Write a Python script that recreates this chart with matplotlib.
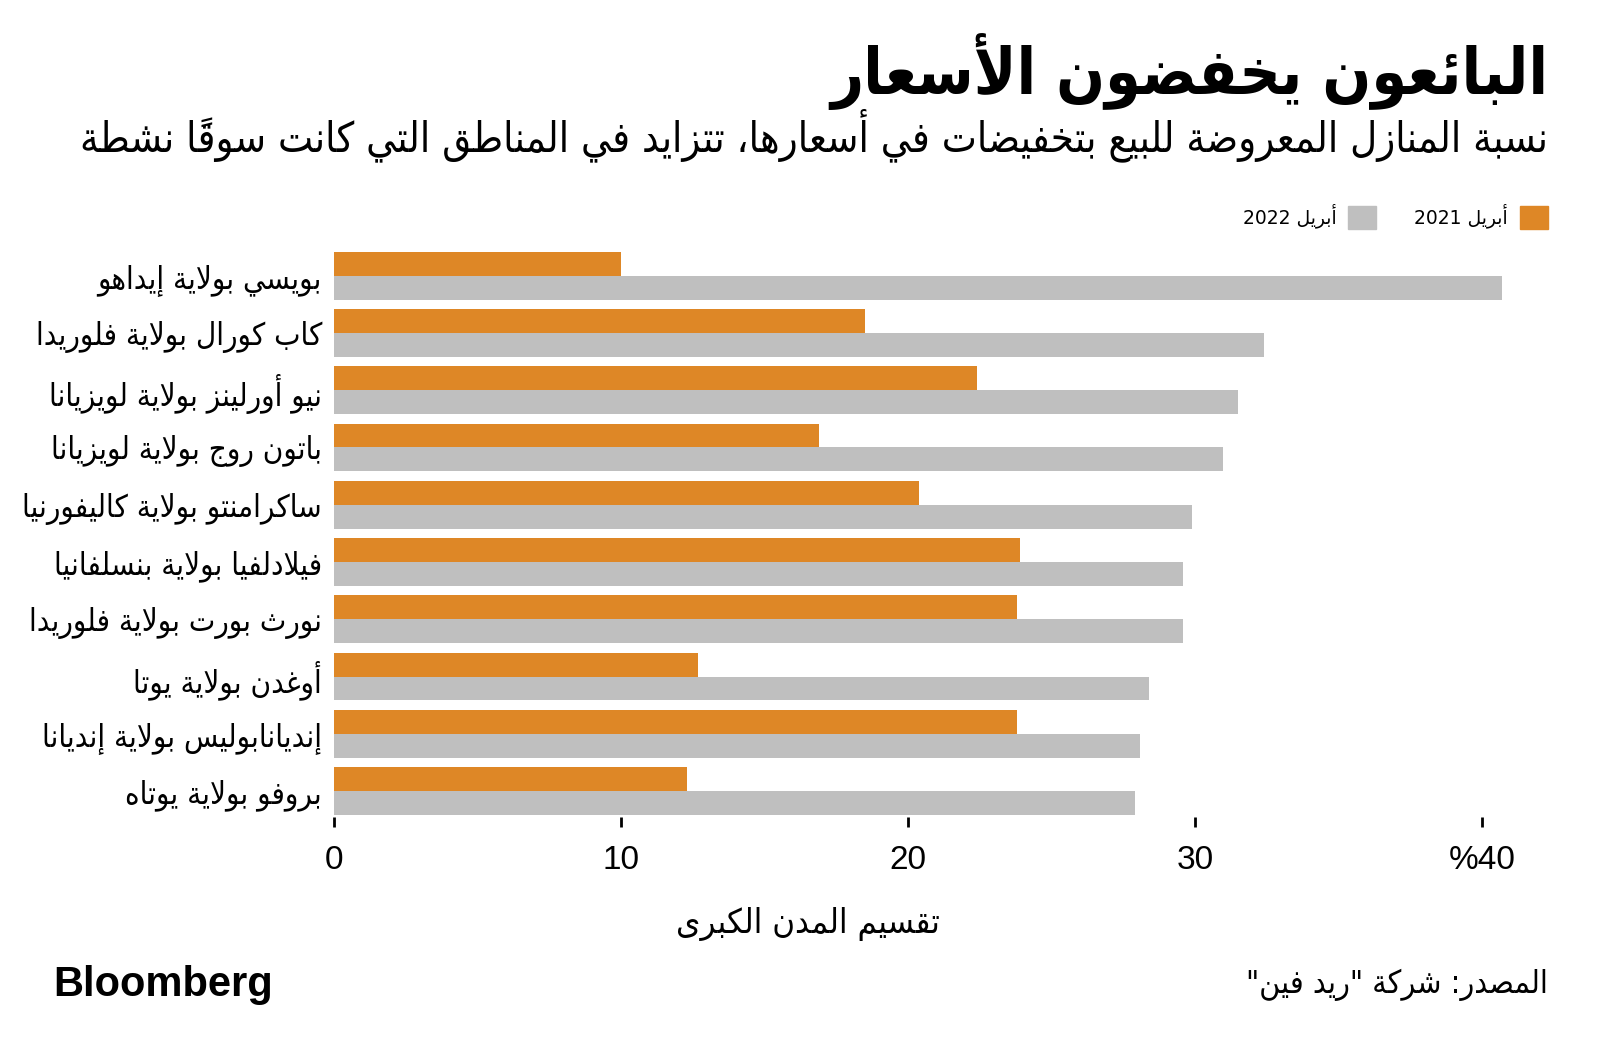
import numpy as np
import matplotlib
matplotlib.use("Agg")
import matplotlib.pyplot as plt
from matplotlib.patches import Patch

# بيانات الرسم
cities = [
    "بويسي بولاية إيداهو",
    "كاب كورال بولاية فلوريدا",
    "نيو أورلينز بولاية لويزيانا",
    "باتون روج بولاية لويزيانا",
    "ساكرامنتو بولاية كاليفورنيا",
    "فيلادلفيا بولاية بنسلفانيا",
    "نورث بورت بولاية فلوريدا",
    "أوغدن بولاية يوتا",
    "إنديانابوليس بولاية إنديانا",
    "بروفو بولاية يوتاه",
]
apr_2021 = [10.0, 18.5, 22.4, 16.9, 20.4, 23.9, 23.8, 12.7, 23.8, 12.3]
apr_2022 = [40.7, 32.4, 31.5, 31.0, 29.9, 29.6, 29.6, 28.4, 28.1, 27.9]
xticks = [0, 10, 20, 30, 40]
xtick_labels = ["0", "10", "20", "30", "%40"]

title = "البائعون يخفضون الأسعار"
subtitle = "نسبة المنازل المعروضة للبيع بتخفيضات في أسعارها، تتزايد في المناطق التي كانت سوقاً نشطة"
legend_labels = ["أبريل 2021", "أبريل 2022"]
xlabel = "تقسيم المدن الكبرى"
source = 'المصدر: شركة "ريد فين"'

ORANGE = "#DE8726"
GRAY = "#BFBFBF"

# --- تشكيل النص العربي يدويا (matplotlib لا يدعم الكتابة من اليمين لليسار) ---
_D_CODE = [0x0626, 0x0628, 0x062A, 0x062B, 0x062C, 0x062D, 0x062E, 0x0633, 0x0634,
           0x0635, 0x0636, 0x0637, 0x0638, 0x0639, 0x063A, 0x0641, 0x0642, 0x0643,
           0x0644, 0x0645, 0x0646, 0x0647, 0x064A]
_D_BASE = [0xFE89, 0xFE8F, 0xFE95, 0xFE99, 0xFE9D, 0xFEA1, 0xFEA5, 0xFEB1, 0xFEB5,
           0xFEB9, 0xFEBD, 0xFEC1, 0xFEC5, 0xFEC9, 0xFECD, 0xFED1, 0xFED5, 0xFED9,
           0xFEDD, 0xFEE1, 0xFEE5, 0xFEE9, 0xFEF1]
_R_CODE = [0x0622, 0x0623, 0x0624, 0x0625, 0x0627, 0x0629, 0x062F, 0x0630, 0x0631,
           0x0632, 0x0648, 0x0649]
_R_BASE = [0xFE81, 0xFE83, 0xFE85, 0xFE87, 0xFE8D, 0xFE93, 0xFEA9, 0xFEAB, 0xFEAD,
           0xFEAF, 0xFEED, 0xFEEF]
FORMS = {chr(c): (b, "D") for c, b in zip(_D_CODE, _D_BASE)}
FORMS.update({chr(c): (b, "R") for c, b in zip(_R_CODE, _R_BASE)})
FORMS["\u0621"] = (0xFE80, "U")
LAM_ALEF = {"\u0622": 0xFEF5, "\u0623": 0xFEF7, "\u0625": 0xFEF9, "\u0627": 0xFEFB}
MARKS = set(chr(c) for c in range(0x064B, 0x0653))


def shape(text):
    cl = []
    for ch in text:
        if ch in MARKS and cl:
            cl[-1][1] += ch
        else:
            cl.append([ch, ""])
    out = []
    prev_joins = False
    k = 0
    while k < len(cl):
        ch, marks = cl[k]
        nxt = cl[k + 1][0] if k + 1 < len(cl) else ""
        if ch == "\u0644" and nxt in LAM_ALEF:
            g = LAM_ALEF[nxt] + (1 if prev_joins else 0)
            out.append(chr(g) + marks + cl[k + 1][1])
            prev_joins = False
            k += 2
            continue
        if ch in FORMS:
            base, t = FORMS[ch]
            to_next = t == "D" and nxt in FORMS and FORMS[nxt][1] in "DR"
            if t == "U":
                g = base
            elif t == "R":
                g = base + 1 if prev_joins else base
            elif prev_joins and to_next:
                g = base + 3
            elif prev_joins:
                g = base + 1
            elif to_next:
                g = base + 2
            else:
                g = base
            out.append(chr(g) + marks)
            prev_joins = to_next
        else:
            out.append(ch + marks)
            prev_joins = False
        k += 1
    return out


def ar(text):
    runs = []
    for c in shape(text):
        ltr = c[0].isascii() and c[0].isalnum()
        if runs and runs[-1][0] == ltr:
            runs[-1][1].append(c)
        else:
            runs.append((ltr, [c]))
    vis = ""
    for ltr, cs in reversed(runs):
        vis += "".join(cs) if ltr else "".join(reversed(cs))
    return vis


AR_FONT = ["DejaVu Sans"]
NUM_FONT = ["Liberation Sans", "DejaVu Sans"]
COND = "condensed"

W, H = 1600, 1064
fig = plt.figure(figsize=(W / 100, H / 100), dpi=100)
fig.patch.set_facecolor("white")

ax_left, ax_right = 334, 1519
ax_top, ax_bottom = 247, 827
ax = fig.add_axes([ax_left / W, 1 - ax_bottom / H, (ax_right - ax_left) / W,
                   (ax_bottom - ax_top) / H])

y = np.arange(len(cities))
h = 0.417
ax.barh(y - h / 2, apr_2021, height=h, color=ORANGE, zorder=2)
ax.barh(y + h / 2, apr_2022, height=h, color=GRAY, zorder=2)

ax.set_xlim(0, 41.3)
ax.set_ylim(9.627, -0.5)
for s in ax.spines.values():
    s.set_visible(False)

ax.set_xticks(xticks, labels=xtick_labels)
ax.tick_params(axis="x", direction="in", length=7.5, width=2, color="black",
               pad=13, labelsize=24)
for lab in ax.get_xticklabels():
    lab.set_family(NUM_FONT)

ax.set_yticks(y, labels=[ar(c) for c in cities])
ax.tick_params(axis="y", length=0, pad=8.6, labelsize=22.4)
for lab in ax.get_yticklabels():
    lab.set_family(AR_FONT)
    lab.set_fontstretch(COND)

ax.set_xlabel(ar(xlabel), fontsize=24.8, family=AR_FONT, fontstretch=COND, va="center")
ax.xaxis.set_label_coords(0.4, -0.168)

# العنوان والعنوان الفرعي
fig.text(1548 / W, 1 - 72 / H, ar(title), ha="right", va="center", fontsize=46,
         weight="bold", family=AR_FONT, fontstretch=COND)
fig.text(1548 / W, 1 - 135 / H, ar(subtitle), ha="right", va="center", fontsize=29.9,
         family=AR_FONT, fontstretch=COND)

# وسيلة الإيضاح
handles = [Patch(color=GRAY, label=ar(legend_labels[1])),
           Patch(color=ORANGE, label=ar(legend_labels[0]))]
leg = fig.legend(handles=handles, loc="center right", bbox_to_anchor=(1548 / W, 1 - 216 / H),
                 ncol=2, frameon=False, markerfirst=False, borderaxespad=0, borderpad=0,
                 handlelength=1.49, handleheight=1.49, handletextpad=0.64,
                 columnspacing=2.03, prop={"family": AR_FONT, "size": 13.5})

fig.text(53 / W, 1 - 985 / H, "Bloomberg", ha="left", va="center", fontsize=30,
         weight="bold", family=NUM_FONT)
fig.text(1548 / W, 1 - 985 / H, ar(source), ha="right", va="center", fontsize=23,
         family=AR_FONT, fontstretch=COND)

fig.savefig("out.png", dpi=100, facecolor="white")
